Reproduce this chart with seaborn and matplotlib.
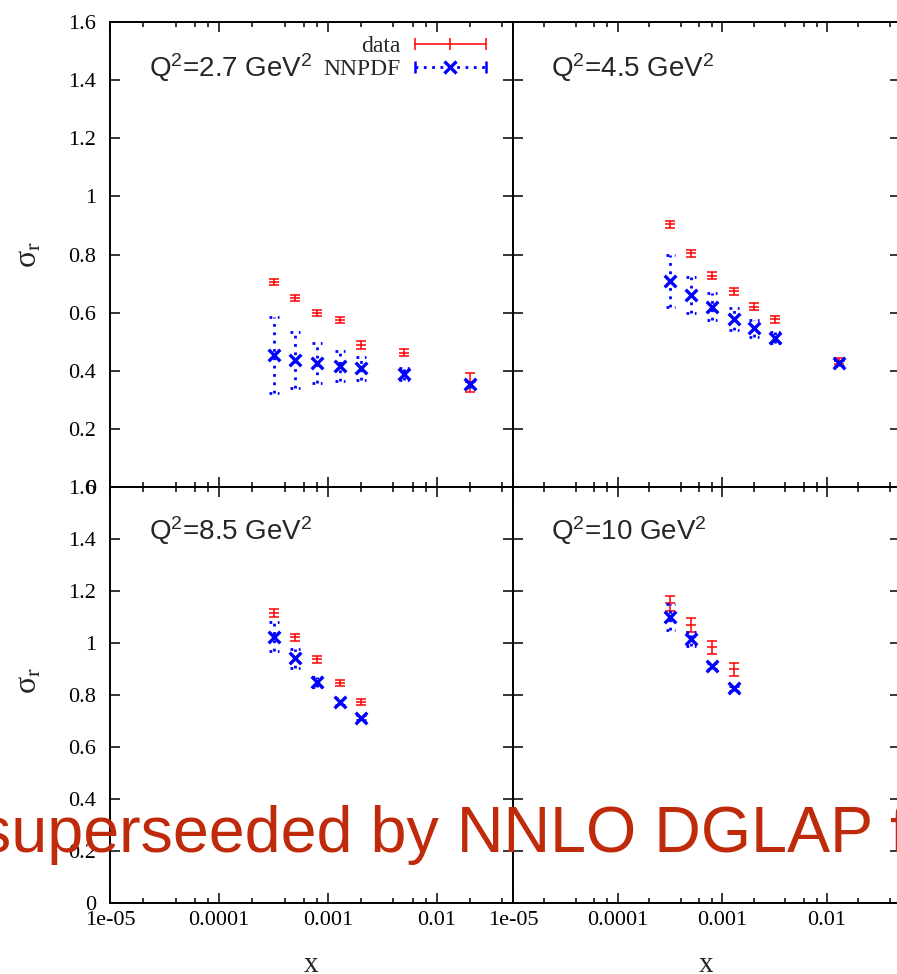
import numpy as np
import matplotlib
matplotlib.use("Agg")
import matplotlib.pyplot as plt
import seaborn as sns
from matplotlib.lines import Line2D
from matplotlib.legend_handler import HandlerTuple, HandlerLine2D
from matplotlib.ticker import LogLocator, FuncFormatter, FixedLocator

# valores (sigma_r vs x para 4 valores de Q^2)
q2_labels = [r"Q$^2$=2.7 GeV$^2$", r"Q$^2$=4.5 GeV$^2$",
             r"Q$^2$=8.5 GeV$^2$", r"Q$^2$=10 GeV$^2$"]

x_27 = [3.2e-4, 5e-4, 8e-4, 1.3e-3, 2e-3, 5e-3, 2e-2]
data_27 = [0.705, 0.651, 0.600, 0.575, 0.489, 0.462, 0.360]
data_27_err = [0.010, 0.010, 0.010, 0.010, 0.015, 0.012, 0.033]
nnpdf_27 = [0.454, 0.437, 0.426, 0.416, 0.408, 0.389, 0.353]
nnpdf_27_err = [0.130, 0.095, 0.068, 0.052, 0.040, 0.020, 0.012]

x_45 = [3.2e-4, 5e-4, 8e-4, 1.3e-3, 2e-3, 3.2e-3, 1.3e-2]
data_45 = [0.904, 0.804, 0.727, 0.674, 0.620, 0.578, 0.434]
data_45_err = [0.012, 0.012, 0.012, 0.012, 0.012, 0.012, 0.010]
nnpdf_45 = [0.709, 0.661, 0.620, 0.578, 0.546, 0.514, 0.428]
nnpdf_45_err = [0.090, 0.063, 0.046, 0.037, 0.030, 0.020, 0.010]

x_85 = [3.2e-4, 5e-4, 8e-4, 1.3e-3, 2e-3]
data_85 = [1.114, 1.022, 0.937, 0.845, 0.772]
data_85_err = [0.015, 0.013, 0.012, 0.012, 0.012]
nnpdf_85 = [1.024, 0.941, 0.851, 0.774, 0.713]
nnpdf_85_err = [0.056, 0.036, 0.020, 0.014, 0.010]

x_10 = [3.2e-4, 5e-4, 8e-4, 1.3e-3]
data_10 = [1.153, 1.069, 0.983, 0.899]
data_10_err = [0.029, 0.026, 0.024, 0.024]
nnpdf_10 = [1.101, 1.014, 0.913, 0.826]
nnpdf_10_err = [0.050, 0.027, 0.012, 0.010]

y_ticks = [0, 0.2, 0.4, 0.6, 0.8, 1.0, 1.2, 1.4, 1.6]

sns.set_theme(style="ticks")
plt.rcParams["font.family"] = ["Liberation Serif", "DejaVu Serif"]
plt.rcParams["mathtext.fontset"] = "custom"
plt.rcParams["mathtext.rm"] = "Liberation Sans"
plt.rcParams["mathtext.it"] = "Liberation Sans:italic"
plt.rcParams["mathtext.bf"] = "Liberation Sans:bold"
plt.rcParams["axes.linewidth"] = 1.4

fig = plt.figure(figsize=(8.97, 9.74), dpi=100)
W, H = 897.0, 974.0
# posicoes dos paineis em pixels (esq, topo, dir, base)
boxes = [(110, 22, 513, 487), (513, 22, 900, 487),
         (110, 487, 513, 903), (513, 487, 900, 903)]
axes = []
for (l, t, r, b) in boxes:
    axes.append(fig.add_axes([l / W, 1 - b / H, (r - l) / W, (b - t) / H]))

paineis = [
    (x_27, data_27, data_27_err, nnpdf_27, nnpdf_27_err),
    (x_45, data_45, data_45_err, nnpdf_45, nnpdf_45_err),
    (x_85, data_85, data_85_err, nnpdf_85, nnpdf_85_err),
    (x_10, data_10, data_10_err, nnpdf_10, nnpdf_10_err),
]

dotted = (0, (1, 2))
blw = 2.0
cap = 1.112  # meia largura do cap em escala log

for i, (ax, (xs, d, de, n, ne)) in enumerate(zip(axes, paineis)):
    xs = np.array(xs)
    n = np.array(n)
    ne = np.array(ne)
    # data (vermelho)
    ax.errorbar(xs, d, yerr=de, fmt="none", ecolor="red", elinewidth=1.1,
                capsize=3.8, capthick=1.1, zorder=3)
    sns.scatterplot(x=xs, y=d, ax=ax, marker="_", color="red", s=55,
                    linewidth=1.1, legend=False, zorder=3)
    # NNPDF (azul pontilhado)
    ax.vlines(xs, n - ne, n + ne, colors="blue", linestyles=dotted,
              linewidth=blw, zorder=4)
    ax.hlines(n - ne, xs / cap, xs * cap, colors="blue", linestyles=dotted,
              linewidth=blw, zorder=4)
    ax.hlines(n + ne, xs / cap, xs * cap, colors="blue", linestyles=dotted,
              linewidth=blw, zorder=4)
    sns.scatterplot(x=xs, y=n, ax=ax, marker="x", color="blue", s=70,
                    linewidth=2.4, legend=False, zorder=5)

    ax.set_xscale("log")
    ax.set_xlim(1e-5, 0.05)
    ax.set_ylim(0, 1.6)
    ax.xaxis.set_major_locator(LogLocator(base=10, numticks=10))
    ax.xaxis.set_minor_locator(LogLocator(base=10, subs=(2, 4, 6, 8), numticks=20))
    ax.xaxis.set_major_formatter(FuncFormatter(lambda v, p: f"{v:g}"))
    ax.xaxis.set_minor_formatter(FuncFormatter(lambda v, p: ""))
    ax.yaxis.set_major_locator(FixedLocator(y_ticks))
    ax.yaxis.set_major_formatter(FuncFormatter(lambda v, p: f"{v:g}"))
    ax.tick_params(which="both", direction="in", top=True, right=True,
                   color="black", labelsize=16, labelcolor="black")
    ax.tick_params(which="major", length=7, width=1.1)
    ax.tick_params(axis="y", which="major", pad=10)
    ax.tick_params(axis="x", which="major", pad=6)
    ax.tick_params(which="minor", length=3.6, width=1.1)
    for s in ax.spines.values():
        s.set_color("black")
        s.set_linewidth(1.4)
    ax.set_xlabel("")
    ax.set_ylabel("")
    if i < 2:
        ax.tick_params(labelbottom=False)
    else:
        ax.set_xlabel("x", fontsize=21)
        ax.xaxis.set_label_coords(0.5, -0.118)
    if i % 2 == 1:
        ax.tick_params(labelleft=False)
    else:
        ax.set_ylabel("σ$_\\mathrm{r}$", fontsize=23, math_fontfamily="stix")
        ax.yaxis.set_label_coords(-0.165, 0.50 if i == 0 else 0.535)
    ax.text(0.097, 0.882 if i < 2 else 0.873, q2_labels[i], transform=ax.transAxes,
            family="Liberation Sans", fontsize=20, va="baseline", ha="left",
            math_fontfamily="custom")

# legenda no primeiro painel
red_caps = Line2D([], [], color="red", lw=1.1, marker="|", ms=9, mew=1.1)
red_mid = Line2D([], [], color="red", ls="none", marker="|", ms=9, mew=1.1)
blue_caps = Line2D([], [], color="blue", lw=blw, ls=dotted, marker="|", ms=9, mew=1.8)
blue_mid = Line2D([], [], color="blue", ls="none", marker="x", ms=8, mew=2.4)
hmap = {tuple: HandlerTuple(ndivide=1, pad=0),
        red_caps: HandlerLine2D(numpoints=2, marker_pad=0),
        blue_caps: HandlerLine2D(numpoints=2, marker_pad=0),
        red_mid: HandlerLine2D(numpoints=1),
        blue_mid: HandlerLine2D(numpoints=1)}
axes[0].legend([(red_caps, red_mid), (blue_caps, blue_mid)], ["data", "NNPDF"],
               handler_map=hmap, loc="upper right", bbox_to_anchor=(0.962, 0.996),
               frameon=False, markerfirst=False, handlelength=3.0,
               handletextpad=0.6, labelspacing=0.05, borderpad=0,
               prop={"family": "Liberation Serif", "size": 17})

fig.text(-21 / W, 1 - 852 / H, "superseeded by NNLO DGLAP fits", color="#bf2a0a",
         family="Liberation Sans", fontsize=46.5, ha="left", va="baseline", zorder=10)

fig.savefig("out.png", dpi=100)
